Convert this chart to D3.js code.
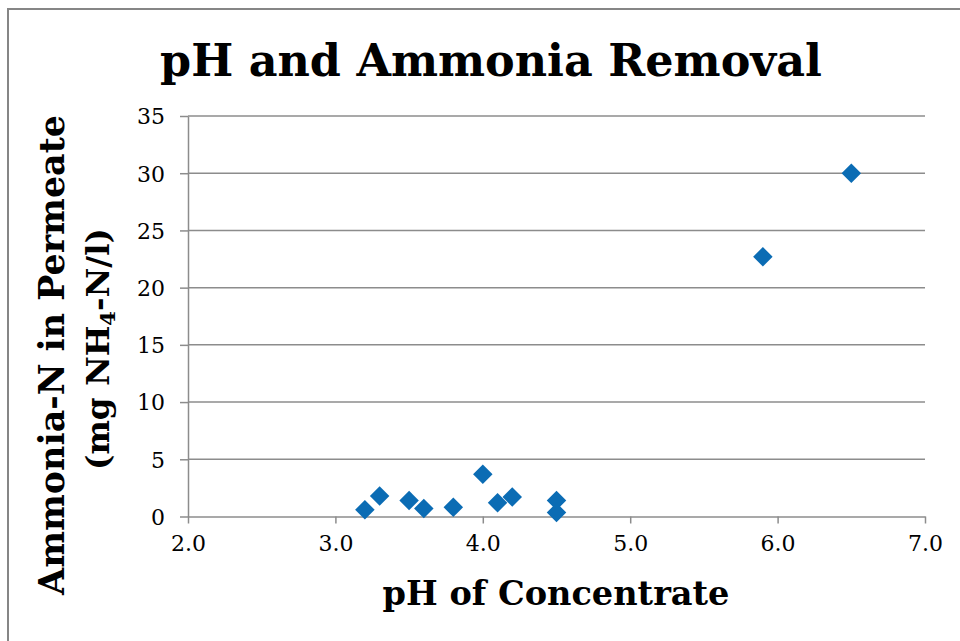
<!DOCTYPE html>
<head>
    <meta charset=utf-8>
    <title>pH and Ammonia Removal</title>
    <script src="https://d3js.org/d3.v7.min.js"></script>
    <style>
        body { margin: 0; background: #ffffff; }
        text { font-family: "DejaVu Serif", serif; fill: #000000; }
        .tick text { font-size: 22px; }
        .grid line { stroke: #8c8c8c; stroke-width: 1.5px; }
    </style>
</head>
<body>
    <div id="chart"></div>
    <script type="text/javascript">
        // values
        var ph_values = [3.2, 3.3, 3.5, 3.6, 3.8, 4.0, 4.1, 4.2, 4.5, 4.5, 5.9, 6.5];
        var ammonia_values = [0.6, 1.8, 1.4, 0.7, 0.8, 3.7, 1.2, 1.7, 1.4, 0.35, 22.7, 30.0];
        var x_ticks = [2, 3, 4, 5, 6, 7];
        var y_ticks = [0, 5, 10, 15, 20, 25, 30, 35];

        var svg_dx = 960,
            svg_dy = 641;

        var x = d3.scaleLinear().domain([2, 7]).range([188, 925]),
            y = d3.scaleLinear().domain([0, 35]).range([516.5, 116]);

        var svg = d3.select("#chart")
                .append("svg")
                .attr("width", svg_dx)
                .attr("height", svg_dy);

        // outer frame, runs off right and bottom
        svg.append("rect")
            .attr("x", 8).attr("y", 9)
            .attr("width", 1000).attr("height", 700)
            .attr("fill", "none")
            .attr("stroke", "#868686")
            .attr("stroke-width", 2);

        // horizontal gridlines
        svg.append("g")
            .attr("class", "grid")
            .selectAll("line")
            .data(y_ticks.filter(d => d > 0))
            .enter()
            .append("line")
            .attr("x1", x(2)).attr("x2", x(7))
            .attr("y1", d => y(d)).attr("y2", d => y(d));

        var axis_x = d3.axisBottom(x)
                    .tickValues(x_ticks)
                    .tickFormat(d3.format(".1f"))
                    .tickSize(7)
                    .tickSizeOuter(0)
                    .tickPadding(10),
            axis_y = d3.axisLeft(y)
                    .tickValues(y_ticks)
                    .tickSize(8)
                    .tickSizeOuter(0)
                    .tickPadding(15);

        var gx = svg.append("g")
            .attr("id", "axis_x")
            .attr("transform", "translate(0," + y(0) + ")")
            .call(axis_x);

        var gy = svg.append("g")
            .attr("id", "axis_y")
            .attr("transform", "translate(" + x(2) + ",0)")
            .call(axis_y);

        svg.selectAll(".domain, .tick line")
            .attr("stroke", "#8c8c8c")
            .attr("stroke-width", 1.5);
        svg.selectAll(".tick text").attr("font-family", "DejaVu Serif").attr("font-size", 22);
        gy.selectAll(".tick text").attr("dy", "0.36em");
        gx.selectAll(".tick text").attr("dy", "0.8em");

        // fit a bold label to a width
        function fit(sel, w) {
            var len = sel.node().getComputedTextLength();
            var fs = parseFloat(sel.attr("font-size"));
            sel.attr("font-size", fs * w / len);
        }

        var title = svg.append("text")
            .attr("x", 491).attr("y", 76)
            .attr("text-anchor", "middle")
            .attr("font-weight", "bold")
            .attr("font-size", 44)
            .text("pH and Ammonia Removal");
        fit(title, 662);

        var xlab = svg.append("text")
            .attr("x", 556).attr("y", 605)
            .attr("text-anchor", "middle")
            .attr("font-weight", "bold")
            .attr("font-size", 32)
            .text("pH of Concentrate");
        fit(xlab, 347);

        var ylab1 = svg.append("text")
            .attr("transform", "translate(64,355) rotate(-90)")
            .attr("text-anchor", "middle")
            .attr("font-weight", "bold")
            .attr("font-size", 32)
            .text("Ammonia-N in Permeate");
        fit(ylab1, 480);

        var ylab2 = svg.append("text")
            .attr("transform", "translate(109,349) rotate(-90)")
            .attr("text-anchor", "middle")
            .attr("font-weight", "bold")
            .attr("font-size", 32);
        ylab2.append("tspan").text("(mg NH");
        ylab2.append("tspan").attr("font-size", "0.65em").attr("dy", "0.3em").text("4");
        ylab2.append("tspan").attr("dy", "-0.2em").text("-N/l)");
        fit(ylab2, 242);

        // diamond markers
        var diamond = d3.symbol().type(d3.symbolSquare).size(190);
        svg.append("g")
            .selectAll("path")
            .data(ph_values)
            .enter()
            .append("path")
            .attr("d", diamond)
            .attr("transform", (d, i) => "translate(" + x(d) + "," + y(ammonia_values[i]) + ") rotate(45)")
            .attr("fill", "#0b6cb4");
    </script>
</body>
